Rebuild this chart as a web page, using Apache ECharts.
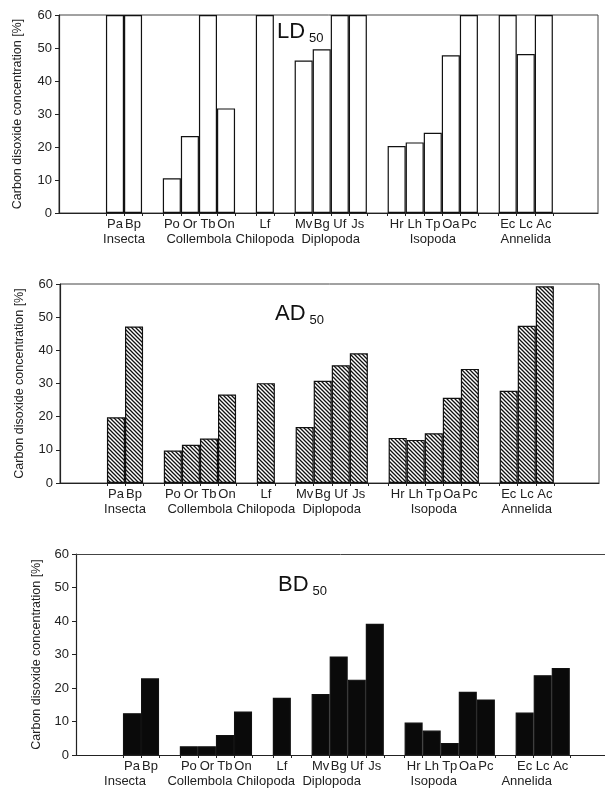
<!DOCTYPE html>
<html lang="en">
<head>
    <meta charset="UTF-8">
    <title>CO2 tolerance of soil animals</title>
    <script src="https://cdn.jsdelivr.net/npm/echarts@6/dist/echarts.min.js"></script>
</head>
<style>
    body{
        margin: 0;
        padding: 0;
        background: #fff;
    }
</style>
<body>
<div id="main" style="width: 605px;height:788px;"></div>
<script>
    // taxa: species abbreviations, grouped
    var groups = ['Insecta', 'Collembola', 'Chilopoda', 'Diplopoda', 'Isopoda', 'Annelida'];
    var groupSizes = [2, 4, 1, 4, 5, 3];
    var species = ['Pa', 'Bp', 'Po', 'Or', 'Tb', 'On', 'Lf', 'Mv', 'Bg', 'Uf', 'Js',
                   'Hr', 'Lh', 'Tp', 'Oa', 'Pc', 'Ec', 'Lc', 'Ac'];

    // CO2 concentration [%]; 60 = bar runs off the top of the scale
    var ld50 = [60, 60, 10.5, 23.3, 60, 31.7, 60, 46.2, 49.6, 60, 60, 20.3, 21.4, 24.3, 47.8, 60, 60, 48.2, 60];
    var ad50 = [19.8, 47.2, 9.8, 11.5, 13.4, 26.7, 30.1, 16.9, 30.8, 35.5, 39.1, 13.6, 13.0, 15.0, 25.7, 34.4, 27.8, 47.4, 59.3];
    var bd50 = [12.5, 22.9, 2.6, 2.6, 6.0, 13.0, 17.1, 18.2, 29.4, 22.5, 39.2, 9.7, 7.3, 3.6, 18.9, 16.6, 12.7, 23.8, 26.0];

    var yName = 'Carbon disoxide concentration [%]';

    var FONT = '"Liberation Sans", Arial, sans-serif';
    // spacing in bar widths: space before the first bar, and between two groups
    var LEAD = 2.6, GAP = 1.15;

    // x axis runs in bar-width units
    var xPos = [], edges = [], groupMid = [];
    var x = LEAD;
    for (var g = 0, k = 0; g < groups.length; g++) {
        if (g > 0) x += GAP;
        var start = x;
        for (var j = 0; j < groupSizes[g]; j++, k++) {
            xPos.push(x + 0.5);
            if (edges.indexOf(x) < 0) edges.push(x);
            x += 1;
            edges.push(x);
        }
        groupMid.push((start + x) / 2);
    }
    var xEnd = x;

    function speciesAt(v) {
        for (var i = 0; i < xPos.length; i++) {
            if (Math.abs(xPos[i] - v) < 1e-6) return species[i];
        }
        return '';
    }

    function hatch() {
        var c = document.createElement('canvas');
        c.width = 4; c.height = 4;
        var t = c.getContext('2d');
        t.fillStyle = '#fff';
        t.fillRect(0, 0, 4, 4);
        t.strokeStyle = '#111';
        t.lineWidth = 1.3;
        t.beginPath();
        t.moveTo(-1, -1); t.lineTo(5, 5);
        t.moveTo(-1, 3); t.lineTo(1, 5);
        t.moveTo(3, -1); t.lineTo(5, 1);
        t.stroke();
        return c;
    }

    var panels = [
        {name: 'LD', data: ld50, left: 59, top: 15, width: 539, height: 198, trail: 2.5, fill: '#fff', frame: true,
         nameGap: 35, titleX: 277, titleY: 18, labelShift: 0},
        {name: 'AD', data: ad50, left: 60, top: 284, width: 539, height: 199, trail: 2.5,
         fill: {image: hatch(), repeat: 'repeat'}, frame: true, nameGap: 34, titleX: 275, titleY: 300, labelShift: 0},
        {name: 'BD', data: bd50, left: 76, top: 554, width: 529, height: 201, trail: 1.95, fill: '#0a0a0a', frame: false,
         nameGap: 33, titleX: 278, titleY: 571, labelShift: -16}
    ];

    var chart = echarts.init(document.getElementById('main'));

    var option = {
        animation: false,
        backgroundColor: '#fff',
        textStyle: {fontFamily: FONT},
        title: [],
        grid: [],
        xAxis: [],
        yAxis: [],
        series: []
    };

    panels.forEach(function (p, i) {
        p.xMax = xEnd + p.trail;
        option.title.push({
            text: '{a|' + p.name + '}{b|50}',
            left: p.titleX,
            top: p.titleY,
            padding: 0,
            textStyle: {
                fontWeight: 'normal',
                rich: {
                    a: {fontSize: 22, fontFamily: FONT, fontWeight: 'normal', color: '#111', padding: [0, 4, 0, 0]},
                    b: {fontSize: 13, fontFamily: FONT, fontWeight: 'normal', color: '#111', padding: [14, 0, 0, 0]}
                }
            }
        });
        option.grid.push({
            left: p.left, top: p.top, width: p.width, height: p.height,
            show: p.frame,
            borderColor: '#444',
            borderWidth: 1
        });
        option.xAxis.push({
            type: 'value',
            gridIndex: i,
            min: 0,
            max: p.xMax,
            axisLine: {lineStyle: {color: '#222', width: 1.2}},
            axisTick: {show: true, length: 3, customValues: edges, lineStyle: {color: '#222'}},
            axisLabel: {
                customValues: xPos,
                margin: 5,
                fontSize: 13,
                color: '#222',
                formatter: speciesAt
            },
            splitLine: {show: false}
        });
        option.yAxis.push({
            type: 'value',
            gridIndex: i,
            min: 0,
            max: 60,
            interval: 10,
            name: yName,
            nameLocation: 'middle',
            nameGap: p.nameGap,
            nameTextStyle: {fontSize: 12.5, color: '#222', fontFamily: FONT},
            axisLine: {show: true, lineStyle: {color: '#222', width: 1.2}},
            axisTick: {show: true, length: 4, lineStyle: {color: '#222'}},
            axisLabel: {fontSize: 13, color: '#222', margin: 7},
            splitLine: {show: false}
        });
        option.series.push({
            type: 'bar',
            xAxisIndex: i,
            yAxisIndex: i,
            data: p.data.map(function (v, n) { return [xPos[n], v]; }),
            barWidth: p.width / p.xMax,
            itemStyle: {color: p.fill, borderColor: '#111', borderWidth: 1.2}
        });
    });

    // bottom panel has only a top line, no right frame
    option.xAxis.push({
        type: 'value',
        gridIndex: 2,
        position: 'top',
        min: 0,
        max: panels[2].xMax,
        axisLine: {lineStyle: {color: '#444', width: 1}},
        axisTick: {show: false},
        axisLabel: {show: false},
        splitLine: {show: false}
    });

    chart.setOption(option);

    // group names under each group of bars
    var texts = [];
    panels.forEach(function (p, i) {
        groupMid.forEach(function (m, g) {
            texts.push({
                type: 'text',
                x: chart.convertToPixel({xAxisIndex: i}, m) + p.labelShift,
                y: p.top + p.height + 26,
                style: {
                    text: groups[g],
                    font: '13px ' + FONT,
                    fill: '#222',
                    align: 'center',
                    verticalAlign: 'middle'
                }
            });
        });
    });
    chart.setOption({graphic: texts});
</script>
</body>
</html>
